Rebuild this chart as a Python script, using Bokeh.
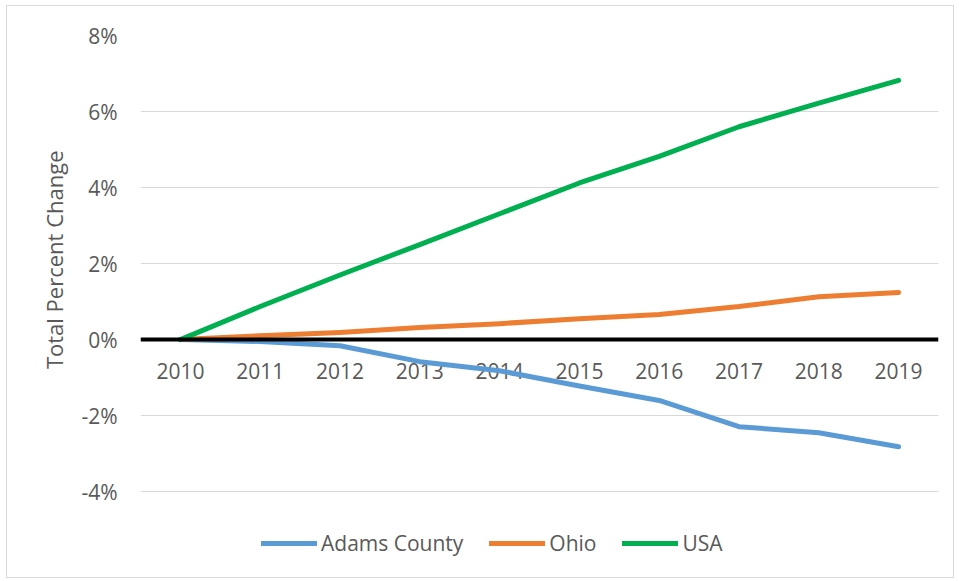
from bokeh.plotting import figure
from bokeh.models import (Range1d, FixedTicker, PrintfTickFormatter, Span,
                          Legend, LegendItem, ColumnDataSource, Title)
from bokeh.core.properties import value
from bokeh.embed import file_html
from bokeh.resources import INLINE

# ---- data (percent change since 2010) ----
years = [2010, 2011, 2012, 2013, 2014, 2015, 2016, 2017, 2018, 2019]
year_labels = [str(y) for y in years]
adams = [0.0, -0.05, -0.16, -0.58, -0.82, -1.22, -1.60, -2.29, -2.45, -2.82]
ohio = [0.0, 0.10, 0.19, 0.32, 0.42, 0.55, 0.66, 0.87, 1.13, 1.24]
usa = [0.0, 0.87, 1.70, 2.50, 3.31, 4.12, 4.82, 5.60, 6.22, 6.82]
y_ticks = [-4, -2, 0, 2, 4, 6, 8]
y_title = "Total Percent Change"
series_names = ["Adams County", "Ohio", "USA"]
series_colors = ["#5B9BD5", "#ED7D31", "#00B050"]

FONT = "Open Sans"
TXT = "#595959"

p = figure(width=948, height=573, output_backend="svg", toolbar_location=None,
           x_range=Range1d(2009.5, 2019.5), y_range=Range1d(-6.1, 8),
           x_axis_location=None, min_border_left=133, min_border_right=17,
           min_border_top=29, min_border_bottom=8)
p.styles = {"border": "1px solid #D9D9D9", "margin-left": "6px",
            "margin-top": "5px"}
p.outline_line_color = None
p.xgrid.visible = False
p.ygrid.grid_line_color = "#D9D9D9"
p.ygrid.grid_line_width = 1

ya = p.yaxis[0]
ya.ticker = FixedTicker(ticks=y_ticks)
ya.formatter = PrintfTickFormatter(format="%d%%")
ya.axis_line_color = None
ya.major_tick_line_color = None
ya.minor_tick_line_color = None
ya.major_tick_out = 0
ya.major_label_standoff = 23
ya.major_label_text_font = FONT
ya.major_label_text_font_size = "21px"
ya.major_label_text_color = TXT

# vertical axis title, centred on the -4%..8% band (not on the legend area)
p.add_layout(Title(text=y_title, align="right", offset=115,
                   vertical_align="bottom", standoff=20,
                   text_font=FONT, text_font_size="22px",
                   text_font_style="normal", text_color=TXT), "left")

# category labels sitting under the zero line
lab_src = ColumnDataSource(dict(x=years, y=[0] * len(years), t=year_labels))
p.text(x="x", y="y", text="t", source=lab_src, text_align="center",
       text_baseline="middle", y_offset=31, text_font=value(FONT),
       text_font_size="21px", text_color=TXT)

p.add_layout(Span(location=0, dimension="width", line_color="black",
                  line_width=4, level="glyph"))

items = []
for name, vals, col in zip(series_names, [adams, ohio, usa], series_colors):
    r = p.line(years, vals, line_color=col, line_width=5, line_cap="round",
               line_join="round")
    items.append(LegendItem(label=name, renderers=[r]))

legend = Legend(items=items, orientation="horizontal", location=(121, 14),
                glyph_width=56, glyph_height=24, label_height=24,
                label_standoff=4, spacing=26, padding=6,
                label_text_font=FONT, label_text_font_size="21px",
                label_text_color=TXT, background_fill_alpha=0,
                border_line_color=None)
p.add_layout(legend)

open("out.html", "w").write(file_html(p, INLINE))
